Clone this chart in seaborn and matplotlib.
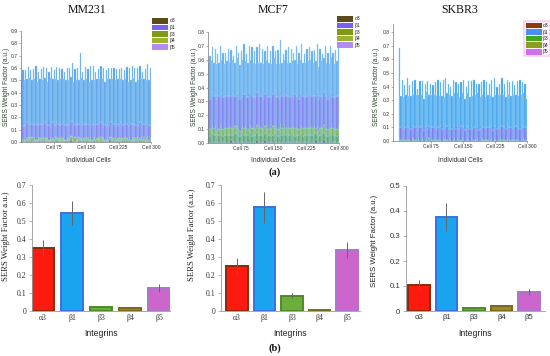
import numpy as np
import pandas as pd
import matplotlib
matplotlib.use('Agg')
import matplotlib.pyplot as plt
from matplotlib.patches import Patch
import seaborn as sns

sns.set_theme(style='white')
plt.rcParams['font.family'] = ['Liberation Sans', 'DejaVu Sans']

W, H = 550, 356

integrins = ['α3', 'β1', 'β3', 'β4', 'β5']
cell_ticks = [75, 150, 225, 300]
cell_tick_labels = ['Cell 75', 'Cell 150', 'Cell 225', 'Cell 300']
top_yticks_9 = [0.0, 0.1, 0.2, 0.3, 0.4, 0.5, 0.6, 0.7, 0.8, 0.9]
top_yticks_8 = [0.0, 0.1, 0.2, 0.3, 0.4, 0.5, 0.6, 0.7, 0.8]
bot_yticks_7 = [0, 0.1, 0.2, 0.3, 0.4, 0.5, 0.6, 0.7]
bot_ylabels_7 = ['0', '0.1', '0.2', '0.3', '0.4', '0.5', '0.6', '0.7']
bot_yticks_5 = [0, 0.1, 0.2, 0.3, 0.4, 0.5]
bot_ylabels_5 = ['0', '0.1', '0.2', '0.3', '0.4', '0.5']

# (a) per-cell SERS weight factors, 100 sampled cells, in hundredths
mm_b5 = [12,11,12,12,13,11,12,12,11,12,12,13,12,11,12,12,12,11,13,12,
         11,12,12,12,13,12,11,12,12,11,12,12,13,12,12,11,12,12,12,13,
         12,11,12,12,11,12,13,12,12,12,11,12,12,13,12,12,11,12,12,12,
         13,12,11,12,12,12,12,11,12,13,12,12,12,11,12,12,13,12,11,12,
         12,12,11,12,13,12,12,12,11,12,12,13,12,12,11,12,12,12,12,11]
mm_a3 = [1,1,1,0,1,1,2,1,1,1,1,0,1,1,1,1,2,1,1,1,
         1,0,1,1,1,1,1,2,1,1,0,1,1,1,1,1,1,1,2,1,
         1,1,0,1,1,2,1,1,1,1,1,1,0,1,1,1,2,1,1,1,
         1,1,1,1,0,1,1,1,2,1,1,1,1,0,1,1,1,1,1,2,
         1,1,1,2,1,1,0,1,1,1,1,1,2,1,1,0,1,1,1,1]
mm_b3 = [1,1,0,1,1,1,1,1,2,1,1,1,0,1,1,1,1,2,1,1,
         1,1,1,0,1,1,2,1,1,1,1,1,1,0,1,1,1,1,2,1,
         1,2,1,1,1,0,1,1,1,1,2,1,1,1,0,1,1,1,1,1,
         1,1,2,1,1,1,1,0,1,1,1,1,2,1,1,1,0,1,1,1,
         2,1,1,1,0,1,1,1,1,2,1,1,1,0,1,1,1,2,1,1]
mm_b4 = [1,0,1,1,1,2,1,1,1,0,1,1,1,2,1,1,0,1,1,1,
         1,1,2,1,1,0,1,1,1,1,2,1,1,1,0,1,1,1,1,2,
         0,1,1,1,2,1,1,0,1,1,1,1,1,2,1,1,1,0,1,1,
         1,2,1,1,1,0,1,1,1,2,1,1,0,1,1,1,2,1,1,0,
         1,1,0,1,1,1,2,1,1,1,0,1,1,1,2,1,1,1,0,1]
mm_b1 = [35,45,36,44,35,46,36,43,35,45,36,47,35,42,36,44,35,46,36,45,
         35,43,36,47,35,44,36,45,35,46,36,44,35,43,36,46,35,45,36,47,
         35,44,36,45,35,57,36,43,35,46,36,44,35,45,36,47,35,43,36,44,
         35,46,36,45,35,44,36,47,35,43,36,45,35,46,36,44,35,45,36,43,
         35,46,36,44,35,47,36,45,35,44,36,46,35,43,36,45,35,47,36,46]

mcf_b3 = [5,4,5,6,5,5,4,5,5,6,5,4,5,5,6,5,5,4,5,5,
          6,5,5,4,5,5,6,5,4,5,5,5,6,5,5,4,5,6,5,5,
          5,5,4,5,6,5,5,5,4,5,5,6,5,5,4,5,5,5,6,5,
          4,5,5,6,5,5,4,5,5,5,6,5,4,5,5,6,5,5,4,5,
          5,6,5,5,4,5,5,6,5,5,4,5,5,5,6,5,4,5,5,6]
mcf_b4 = [5,5,4,5,5,6,5,5,4,5,6,5,5,4,5,5,6,5,5,4,
          5,5,6,5,4,5,5,5,6,5,4,5,5,6,5,5,4,5,5,6,
          5,4,5,5,6,5,4,5,5,6,5,5,4,5,5,6,5,4,5,5,
          6,5,5,4,5,5,6,5,5,4,5,5,6,5,4,5,5,5,6,5,
          5,5,4,6,5,5,5,4,6,5,5,5,4,5,6,5,5,4,5,5]
mcf_b5 = [23,22,23,24,23,22,23,23,24,22,23,23,22,24,23,23,22,23,24,23,
          22,23,24,23,23,22,23,24,23,22,23,23,24,23,22,23,23,24,22,23,
          23,24,22,23,23,24,23,22,23,23,24,22,23,23,22,24,23,23,22,23,
          24,23,22,23,23,22,24,23,23,22,23,24,23,22,23,23,24,22,23,23,
          23,22,23,24,22,23,23,22,24,23,23,22,23,24,23,22,23,23,24,22]
mcf_a3 = [1,1,2,1,1,1,0,1,1,2,1,1,1,1,0,1,1,2,1,1,
          1,2,1,1,0,1,1,1,2,1,1,3,1,0,1,1,1,2,1,1,
          1,1,1,2,1,0,1,1,1,1,2,1,1,0,1,3,1,1,2,1,
          0,1,1,1,2,1,1,1,0,1,1,2,1,1,1,0,1,1,2,1,
          1,1,2,1,0,1,1,1,2,1,1,0,1,1,2,1,1,1,0,1]
mcf_b1 = [24,31,25,33,24,34,25,30,24,35,25,32,24,31,25,34,24,33,25,30,
          24,35,25,32,24,33,25,36,24,31,25,34,24,35,25,33,24,32,25,36,
          24,34,25,31,24,36,25,33,24,35,25,32,24,34,25,36,24,31,25,33,
          24,35,25,34,24,32,25,36,24,33,25,35,24,31,25,34,24,36,25,32,
          24,33,25,35,24,34,25,31,24,36,25,33,24,35,25,32,24,34,25,37]

sk_b5 = [9,9,10,8,9,9,10,9,8,9,9,10,9,9,8,9,10,9,9,8,
         9,10,9,9,8,9,9,10,9,8,9,9,10,9,9,8,9,10,9,9,
         8,9,9,10,9,9,8,9,10,9,9,8,9,9,10,9,8,9,9,10,
         9,9,8,9,10,9,9,8,9,9,10,9,9,8,9,10,9,9,8,9,
         10,9,9,8,9,10,9,9,8,9,9,10,9,8,9,9,10,9,9,8]
sk_a3 = [1,0,0,1,0,0,1,0,0,0,1,0,0,1,0,0,0,1,0,0,
         0,1,0,0,0,1,0,0,1,0,0,0,1,0,0,1,0,0,0,1,
         0,0,1,0,0,1,0,0,0,1,0,0,1,0,0,0,1,0,0,1,
         1,0,0,0,1,0,0,1,0,0,0,1,0,0,1,0,0,0,1,0,
         0,1,0,0,1,0,0,0,1,0,0,1,0,0,0,1,0,0,1,0]
sk_b3 = [0,1,0,0,1,0,0,0,1,0,0,1,0,0,0,1,0,0,1,0,
         1,0,0,1,0,0,0,1,0,0,1,0,0,0,1,0,0,1,0,0,
         0,0,0,1,0,0,1,0,0,1,0,0,0,1,0,0,1,0,0,0,
         0,1,0,0,0,1,0,0,1,0,0,0,1,0,0,1,0,0,0,1,
         1,0,0,1,0,0,1,0,0,0,1,0,0,1,0,0,0,1,0,0]
sk_b4 = [0,0,1,0,0,1,0,1,0,0,1,0,1,0,0,1,0,0,1,0,
         0,1,0,1,0,0,1,0,0,1,0,1,0,0,1,0,1,0,0,1,
         1,0,0,1,0,1,0,0,1,0,1,0,0,1,0,0,1,0,1,0,
         0,1,0,0,1,0,1,0,0,1,0,0,1,0,1,0,0,1,0,1,
         0,0,1,0,1,0,0,1,0,1,0,0,1,0,0,1,0,1,0,0]
sk_b1 = [58,23,34,23,31,24,35,23,32,24,33,23,35,24,30,23,34,24,33,23,
         32,24,35,23,34,24,31,23,33,24,35,23,32,24,34,23,36,24,33,23,
         31,24,35,23,34,24,33,23,32,24,35,23,30,24,34,23,33,24,35,23,
         32,24,34,23,31,24,35,23,33,24,32,23,34,24,35,23,31,24,33,23,
         35,24,32,23,34,24,33,23,35,24,31,23,34,24,36,23,33,24,32,23]

# (b) mean SERS weight factor per integrin and error
mm_mean = [0.350, 0.545, 0.025, 0.018, 0.128]
mm_err = [0.045, 0.065, 0.005, 0.004, 0.020]
mcf_mean = [0.252, 0.576, 0.085, 0.008, 0.339]
mcf_err = [0.045, 0.085, 0.015, 0.002, 0.045]
sk_mean = [0.106, 0.376, 0.012, 0.021, 0.077]
sk_err = [0.020, 0.055, 0.003, 0.004, 0.013]

cells = np.arange(1.5, 300, 3)

legend_cols_a = ['#5c4a1c', '#7b60ef', '#7e9a18', '#9bb52a', '#b28cf4']
legend_cols_sk = ['#8a3c10', '#4d8ff0', '#42a81e', '#8c9e22', '#d070e8']
bar_faces = ['#ff1a10', '#1aa4f0', '#6cae3c', '#a08a28', '#cc66cc']
bar_edges = ['#8b2a0a', '#3c70e0', '#4e8a2a', '#7a6818', '#a878c8']


def box(l, t, r, b):
    return [l / W, 1 - b / H, (r - l) / W, (b - t) / H]


fig = plt.figure(figsize=(W / 100, H / 100), dpi=100)


def top_panel(rect, layers, colors, edge, xlim, ymax, yticks, leg_cols, leg_xy, leg_frame=None):
    ax = fig.add_axes(rect)
    bottom = np.zeros(len(cells))
    for vals, c in zip(layers, colors):
        v = np.array(vals) / 100
        ax.bar(cells, v, bottom=bottom, width=3, color=c, edgecolor=edge, linewidth=0.3)
        bottom += v
    ax.set_xlim(*xlim)
    ax.set_ylim(0, ymax)
    ax.set_yticks(yticks)
    ax.set_yticklabels([f'{t:.1f}' for t in yticks])
    ax.set_xticks(cell_ticks)
    ax.set_xticklabels(cell_tick_labels)
    for s in ['top', 'right']:
        ax.spines[s].set_visible(False)
    for s in ['left', 'bottom']:
        ax.spines[s].set_color('#777')
        ax.spines[s].set_linewidth(0.5)
    ax.tick_params(labelsize=3.6, length=1.5, width=0.4, color='#777', labelcolor='#333', pad=1)
    ax.tick_params(axis='y', left=True)
    ax.tick_params(axis='x', bottom=True)
    handles = [Patch(facecolor=c, edgecolor='none') for c in leg_cols]
    leg = ax.legend(handles, integrins, loc='upper left',
                    bbox_to_anchor=(leg_xy[0] / W, 1 - leg_xy[1] / H),
                    bbox_transform=fig.transFigure, fontsize=3.6, handlelength=3.2,
                    handleheight=1.35, labelspacing=0.2, handletextpad=0.3,
                    borderpad=0.3 if leg_frame else 0, borderaxespad=0,
                    frameon=leg_frame is not None)
    if leg_frame:
        leg.get_frame().set_edgecolor(leg_frame)
        leg.get_frame().set_facecolor('#fff4fc')
        leg.get_frame().set_linewidth(1.2)
        leg.get_frame().set_boxstyle('square', pad=0)
    return ax


def bottom_panel(rect, vals, errs, xlim, ymax, yticks, ylabels, serif):
    ax = fig.add_axes(rect)
    df = pd.DataFrame({'integrin': integrins, 'value': vals})
    sns.barplot(data=df, x='integrin', y='value', hue='integrin', palette=bar_faces,
                legend=False, width=0.78, errorbar=None, saturation=1, ax=ax)
    for p, e in zip(ax.patches, bar_edges):
        p.set_edgecolor(e)
        p.set_linewidth(1.4)
    ax.errorbar(range(5), vals, yerr=errs, fmt='none', ecolor='#666', elinewidth=0.7)
    ax.set_xlim(*xlim)
    ax.set_ylim(0, ymax)
    ax.set_yticks(yticks)
    ax.set_yticklabels(ylabels)
    ax.set_xlabel('')
    ax.set_ylabel('')
    for s in ['top', 'right']:
        ax.spines[s].set_visible(False)
    for s in ['left', 'bottom']:
        ax.spines[s].set_color('#999')
        ax.spines[s].set_linewidth(0.6)
    ax.tick_params(axis='y', left=True, length=2, width=0.5, color='#999', pad=2)
    ax.tick_params(axis='x', bottom=False, length=0, pad=2)
    fam = ['Liberation Serif', 'DejaVu Serif'] if serif else ['Liberation Sans', 'DejaVu Sans']
    for lab in ax.get_xticklabels() + ax.get_yticklabels():
        lab.set_fontfamily(fam)
        lab.set_fontsize(5.6)
        lab.set_color('#333')
    return ax


# small components first so they sit as a thin strip on the axis
top_panel(box(21, 31, 151, 142), [mm_a3, mm_b3, mm_b4, mm_b5, mm_b1],
          ['#5c4a1c', '#7e9a18', '#9bb52a', '#8472f0', '#5898e6'], '#9edcf8',
          (0, 300), 0.9, top_yticks_9, legend_cols_a, (152, 18))
top_panel(box(208, 32, 339, 143), [mcf_a3, mcf_b3, mcf_b4, mcf_b5, mcf_b1],
          ['#5c4a1c', '#5c9a48', '#7fae3e', '#8070ee', '#62a4ec'], '#9edcf8',
          (0, 300), 0.8, top_yticks_8, legend_cols_a, (337, 16))
top_panel(box(393, 24, 527, 141), [sk_a3, sk_b3, sk_b4, sk_b5, sk_b1],
          ['#8a3c10', '#42a81e', '#8c9e22', '#7468ee', '#3d9cec'], '#9edcf8',
          (-14, 300), 0.86, top_yticks_8, legend_cols_sk, (524, 21), leg_frame='#f6c8f0')

bottom_panel(box(32, 185, 170, 311), mm_mean, mm_err, (-0.38, 4.38), 0.7,
             bot_yticks_7, bot_ylabels_7, True)
bottom_panel(box(221, 185, 360, 311), mcf_mean, mcf_err, (-0.58, 4.47), 0.7,
             bot_yticks_7, bot_ylabels_7, True)
bottom_panel(box(406, 186, 545, 311), sk_mean, sk_err, (-0.47, 4.58), 0.5,
             bot_yticks_5, bot_ylabels_5, False)

serif = ['Liberation Serif', 'DejaVu Serif']


def ftext(x, y, s, **kw):
    fig.text(x / W, 1 - y / H, s, ha='center', va='center', **kw)


for x, t in [(87, 'MM231'), (273, 'MCF7'), (460, 'SKBR3')]:
    ftext(x, 10, t, fontsize=8.5, family=serif, color='#111')
for x in [88, 273, 460]:
    ftext(x, 160, 'Individual Cells', fontsize=4.8, color='#333')
for x in [7, 195, 376]:
    ftext(x, 87, 'SERS Weight Factor (a.u.)', fontsize=4.8, rotation=90, color='#334433')

ftext(6, 236, 'SERS Weight Factor a.u.)', fontsize=6.2, rotation=90, family=serif, color='#222')
ftext(192, 235, 'SERS Weight Factor (a.u.)', fontsize=6.2, rotation=90, family=serif, color='#222')
ftext(375, 241, 'SERS Weight Factor (a.u.)', fontsize=5.6, rotation=90, color='#222')
for x in [101, 290, 475]:
    ftext(x, 333, 'Integrins', fontsize=6.2, color='#222')

ftext(275, 172, '(a)', fontsize=7.5, family=serif, weight='bold', color='#111')
ftext(275, 348, '(b)', fontsize=7.5, family=serif, weight='bold', color='#111')

fig.savefig('out.png', dpi=100)
